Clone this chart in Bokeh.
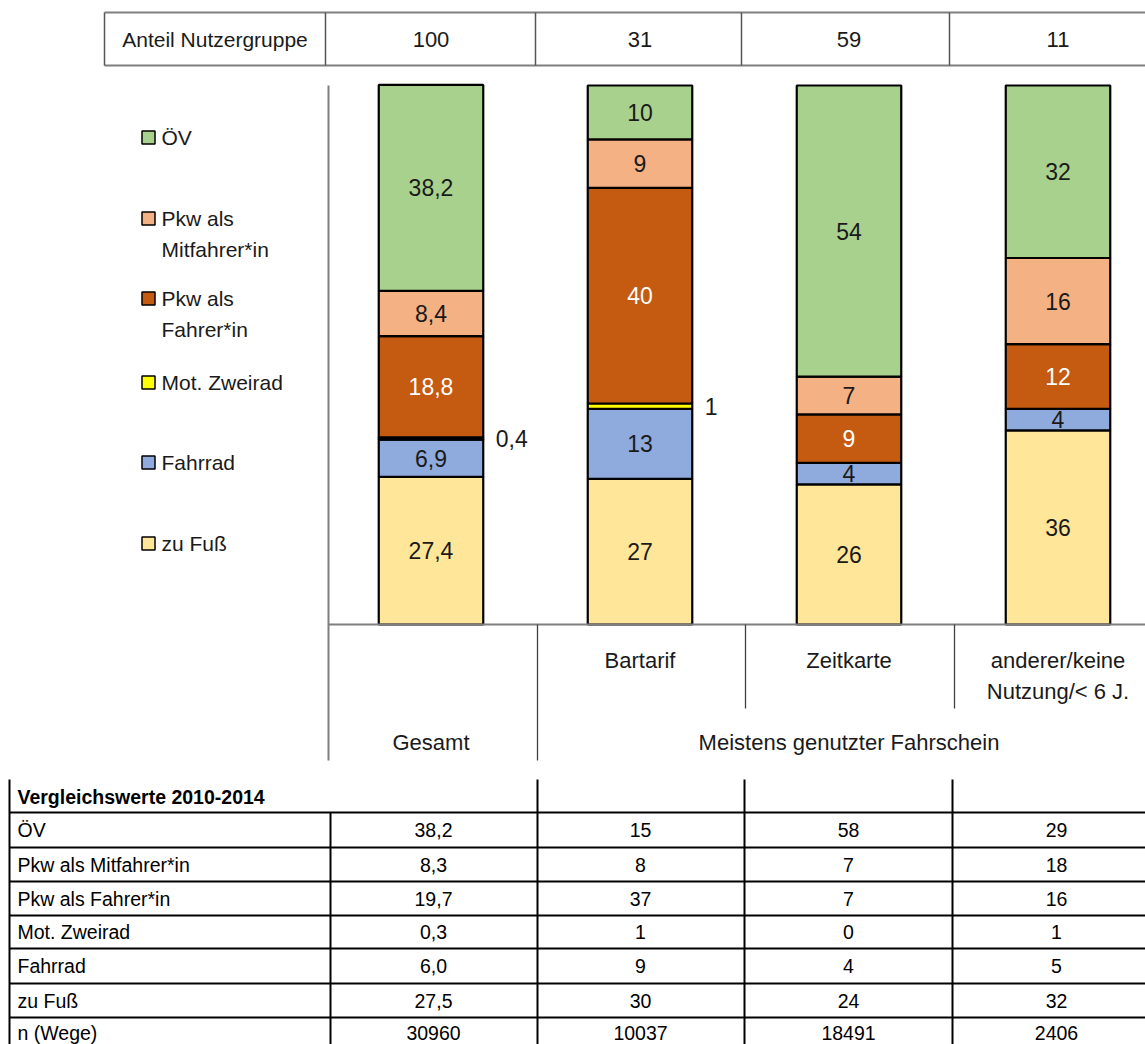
import numpy as np
from bokeh.plotting import figure
from bokeh.models import Range1d
from bokeh.core.properties import value
from bokeh.embed import file_html
from bokeh.resources import INLINE

# ---------------- data ----------------
groups = ["Gesamt", "Bartarif", "Zeitkarte", "anderer/keine Nutzung/< 6 J."]
group_label_lines = [[], ["Bartarif"], ["Zeitkarte"], ["anderer/keine", "Nutzung/< 6 J."]]
anteil_nutzergruppe = [100, 31, 59, 11]

# modes from bottom to top of the stack
modes = ["zu Fuß", "Fahrrad", "Mot. Zweirad", "Pkw als Fahrer*in", "Pkw als Mitfahrer*in", "ÖV"]
zu_fuss = [27.4, 27, 26, 36]
fahrrad = [6.9, 13, 4, 4]
mot_zweirad = [0.4, 1, 0, 0]
pkw_fahrer = [18.8, 40, 9, 12]
pkw_mitfahrer = [8.4, 9, 7, 16]
oev = [38.2, 10, 54, 32]
mode_colors = ["#FFE699", "#8FAADC", "#FFFF00", "#C55A11", "#F4B183", "#A9D18E"]
label_colors = ["black", "black", "black", "white", "black", "black"]

# comparison table 2010-2014 (rows top to bottom)
cmp_rows = ["ÖV", "Pkw als Mitfahrer*in", "Pkw als Fahrer*in", "Mot. Zweirad", "Fahrrad", "zu Fuß", "n (Wege)"]
cmp_gesamt = [38.2, 8.3, 19.7, 0.3, 6.0, 27.5]
cmp_bartarif = [15, 8, 37, 1, 9, 30]
cmp_zeitkarte = [58, 7, 7, 0, 4, 24]
cmp_anderer = [29, 18, 16, 1, 5, 32]
n_wege = [30960, 10037, 18491, 2406]

legend_order = ["ÖV", "Pkw als Mitfahrer*in", "Pkw als Fahrer*in", "Mot. Zweirad", "Fahrrad", "zu Fuß"]

# ---------------- layout constants (screen pixels) ----------------
W, H = 1145, 1044
OX, OY = 0, 0
FONT = "Liberation Sans"
PX_PER_CAT = 209.0
CAT0 = 430.5
VAL0_Y = 624.0
PX_PER_VAL = 5.39

def comma(v, dec):
    return (f"{v:.{dec}f}").replace(".", ",")

p = figure(width=W, height=H, output_backend="svg", toolbar_location=None,
           x_range=Range1d(OX, OX + W), y_range=Range1d(OY + H, OY),
           x_axis_location=None, y_axis_location=None, min_border=0,
           outline_line_color=None, background_fill_color="white")
p.grid.grid_line_color = None

cs = -(CAT0 - OX) / PX_PER_CAT
p.extra_x_ranges = {"cat": Range1d(cs, cs + W / PX_PER_CAT)}
ve = (VAL0_Y - OY) / PX_PER_VAL
p.extra_y_ranges = {"val": Range1d(ve - H / PX_PER_VAL, ve)}

def cx(i):
    return CAT0 + PX_PER_CAT * i

TXT = "#1a1a1a"

# ---------------- stacked bars ----------------
series = [zu_fuss, fahrrad, mot_zweirad, pkw_fahrer, pkw_mitfahrer, oev]
xs = np.arange(len(groups))
bottom = np.zeros(len(groups))
for k, vals in enumerate(series):
    vals = np.array(vals, dtype=float)
    top = bottom + vals
    p.vbar(x=xs, width=0.5, bottom=bottom, top=top, fill_color=mode_colors[k],
           line_color="black", line_width=2.2, x_range_name="cat", y_range_name="val")
    mid = (bottom + top) / 2
    for i in range(len(groups)):
        if vals[i] <= 0:
            continue
        txt = comma(vals[i], 1) if i == 0 else f"{vals[i]:.0f}"
        if modes[k] == "Mot. Zweirad":
            p.text(x=[xs[i] + 0.31], y=[mid[i]], text=[txt], text_align="left",
                   text_baseline="middle", text_font=value(FONT), text_font_size="23px",
                   text_color=TXT, x_range_name="cat", y_range_name="val")
        else:
            p.text(x=[xs[i]], y=[mid[i]], text=[txt], text_align="center",
                   text_baseline="middle", text_font=value(FONT), text_font_size="23px",
                   text_color=("white" if label_colors[k] == "white" else TXT),
                   x_range_name="cat", y_range_name="val")
    bottom = top

# ---------------- chart frame lines ----------------
GRAY = "#7F7F7F"
p.segment(x0=[328, 328], y0=[85, VAL0_Y], x1=[328, OX + W], y1=[760, VAL0_Y],
          line_color=GRAY, line_width=2)
p.segment(x0=[537, 745, 954], y0=[VAL0_Y] * 3, x1=[537, 745, 954], y1=[760, 708, 708],
          line_color="#404040", line_width=1.3)

for i, lines in enumerate(group_label_lines):
    for j, ln in enumerate(lines):
        p.text(x=[cx(i)], y=[660 + 31 * j], text=[ln], text_align="center", text_baseline="middle",
               text_font=value(FONT), text_font_size="22px", text_color=TXT)
p.text(x=[cx(0)], y=[742], text=[groups[0]], text_align="center", text_baseline="middle",
       text_font=value(FONT), text_font_size="22px", text_color=TXT)
p.text(x=[(537 + 1160) / 2], y=[742], text=["Meistens genutzter Fahrschein"], text_align="center",
       text_baseline="middle", text_font=value(FONT), text_font_size="22px", text_color=TXT)

# ---------------- top table ----------------
p.segment(x0=[104, 104], y0=[12, 65], x1=[OX + W, OX + W], y1=[12, 65], line_color=GRAY, line_width=2)
p.segment(x0=[104, 325, 535, 741, 949], y0=[12] * 5, x1=[104, 325, 535, 741, 949], y1=[65] * 5,
          line_color="#555555", line_width=1.5)
p.text(x=[214.5], y=[39], text=["Anteil Nutzergruppe"], text_align="center", text_baseline="middle",
       text_font=value(FONT), text_font_size="21px", text_color=TXT)
p.text(x=[cx(i) for i in range(4)], y=[39] * 4, text=[str(v) for v in anteil_nutzergruppe],
       text_align="center", text_baseline="middle", text_font=value(FONT), text_font_size="22px",
       text_color=TXT)

# ---------------- legend ----------------
legend_y = [137, 218, 298, 382, 462, 543]
for name, ly in zip(legend_order, legend_y):
    k = modes.index(name)
    p.rect(x=[148], y=[ly], width=13, height=13, fill_color=mode_colors[k], line_color="black",
           line_width=1.5)
    if name.startswith("Pkw als "):
        parts = ["Pkw als", name[len("Pkw als "):]]
    else:
        parts = [name]
    for j, part in enumerate(parts):
        p.text(x=[161], y=[ly + 31 * j], text=[part], text_align="left", text_baseline="middle",
               text_font=value(FONT), text_font_size="21px", text_color=TXT)

# ---------------- comparison table ----------------
row_lines = [812, 847, 881, 915, 948, 983, 1017]
p.segment(x0=[9] * len(row_lines), y0=row_lines, x1=[OX + W] * len(row_lines), y1=row_lines,
          line_color="black", line_width=2)
p.segment(x0=[9, 537, 744, 952], y0=[779] * 4, x1=[9, 537, 744, 952], y1=[OY + H] * 4,
          line_color="black", line_width=2)
p.segment(x0=[330], y0=[812], x1=[330], y1=[OY + H], line_color="black", line_width=2)
p.text(x=[17], y=[796], text=["Vergleichswerte 2010-2014"], text_align="left", text_baseline="middle",
       text_font=value(FONT), text_font_size="19.5px", text_font_style="bold", text_color="black")
row_mid = [(a + b) / 2 for a, b in zip(row_lines[:-1], row_lines[1:])] + [row_lines[-1] + 15]
p.text(x=[17] * len(cmp_rows), y=row_mid, text=cmp_rows, text_align="left", text_baseline="middle",
       text_font=value(FONT), text_font_size="19.5px", text_color="black")
cols = [[comma(v, 1) for v in cmp_gesamt],
        [f"{v:.0f}" for v in cmp_bartarif],
        [f"{v:.0f}" for v in cmp_zeitkarte],
        [f"{v:.0f}" for v in cmp_anderer]]
col_x = [433, 640, 848, 1056]
for i, col in enumerate(cols):
    vals = col + [str(n_wege[i])]
    p.text(x=[col_x[i]] * len(vals), y=row_mid, text=vals, text_align="center", text_baseline="middle",
           text_font=value(FONT), text_font_size="19.5px", text_color="black")

open("out.html", "w").write(file_html(p, INLINE))
